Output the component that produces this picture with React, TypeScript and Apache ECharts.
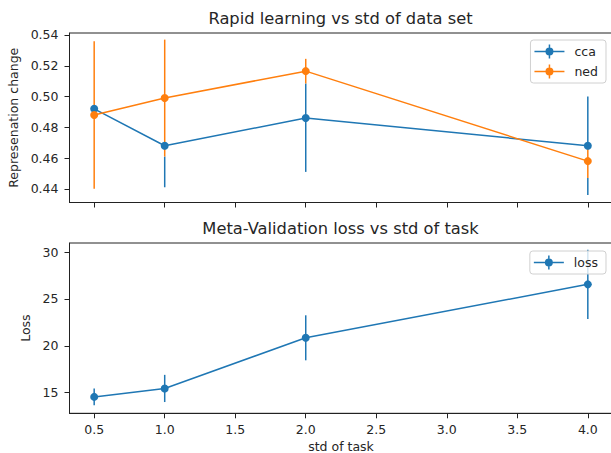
import React, { useEffect, useRef } from "react";
import * as echarts from "echarts";

const xValues = [0.5, 1.0, 2.0, 4.0];
const ccaMean = [0.492, 0.468, 0.486, 0.468];
const ccaErr = [0.02, 0.027, 0.035, 0.032];
const nedMean = [0.488, 0.499, 0.5165, 0.458];
const nedErr = [0.048, 0.038, 0.008, 0.011];
const lossMean = [14.55, 15.45, 20.85, 26.55];
const lossErr = [0.9, 1.45, 2.4, 3.7];

const xTicks = [0.5, 1.0, 1.5, 2.0, 2.5, 3.0, 3.5, 4.0];
const topYTicks = [0.44, 0.46, 0.48, 0.5, 0.52, 0.54];
const bottomYTicks = [15, 20, 25, 30];

const BLUE = "#1f77b4";
const ORANGE = "#ff7f0e";
const TXT = "#262626";
const FONT = "DejaVu Sans";

const pts = (m: number[]) => xValues.map((x, i) => [x, m[i]]);
// rows: [x, mean, err, colorIndex]; later rows lie on top of earlier ones
const errRows = (groups: { mean: number[]; err: number[] }[]) =>
  groups.flatMap((g, gi) => xValues.map((x, i) => [x, g.mean[i], g.err[i], gi]));

// visible parts of an error bar once later bars at the same x cover it
function visibleParts(data: number[][], k: number): number[][] {
  const [x, y, e] = data[k];
  let segs: number[][] = [[y - e, y + e]];
  for (let j = k + 1; j < data.length; j++) {
    const r = data[j];
    if (r[0] !== x) continue;
    const lo = r[1] - r[2];
    const hi = r[1] + r[2];
    segs = segs.flatMap(([a, b]) => {
      const out: number[][] = [];
      if (lo > a) out.push([a, Math.min(b, lo)]);
      if (hi < b) out.push([Math.max(a, hi), b]);
      return out.filter((s) => s[1] > s[0]);
    });
  }
  return segs;
}

function errSeries(name: string, data: number[][], colors: string[], idx: number) {
  return {
    type: "custom",
    name,
    xAxisIndex: idx,
    yAxisIndex: idx,
    data,
    z: 2,
    encode: { x: 0, y: 1 },
    clip: false,
    renderItem: (params: any, api: any) => {
      const k = params.dataIndex;
      const x = api.value(0);
      const c = colors[api.value(3)];
      const children = visibleParts(data, k).map(([a, b]) => {
        const p1 = api.coord([x, b]);
        const p2 = api.coord([x, a]);
        return {
          type: "rect",
          shape: { x: p1[0] - 0.75, y: p1[1], width: 1.5, height: p2[1] - p1[1] },
          style: { fill: c },
        };
      });
      return { type: "group", children };
    },
  };
}

function lineSeries(name: string, data: number[][], color: string, idx: number) {
  return {
    type: "line",
    name,
    xAxisIndex: idx,
    yAxisIndex: idx,
    data,
    z: 3,
    symbol: "circle",
    symbolSize: 8,
    lineStyle: { color, width: 1.5 },
    itemStyle: { color },
    emphasis: { disabled: true },
  };
}

// legend glyph: horizontal line, vertical error bar, circle marker (30 x 14 box)
const LEGEND_ICON =
  "path://M0 6.25h30v1.5h-30Z M14.25 0h1.5v14h-1.5Z M11 7a4 4 0 1 1 8 0a4 4 0 1 1 -8 0Z";

const axisCommon = {
  axisLine: { show: true, onZero: false, lineStyle: { color: "#222", width: 1 } },
  splitLine: { show: false },
};

export default function App() {
  const ref = useRef<HTMLDivElement>(null);
  useEffect(() => {
    if (!ref.current) return;
    const chart = echarts.init(ref.current, undefined, { renderer: "svg" });
    const legendCommon = {
      orient: "vertical",
      right: 14,
      itemWidth: 30,
      itemHeight: 14,
      itemGap: 6,
      padding: [4.5, 8, 4.5, 4],
      borderColor: "#d0d0d0",
      borderWidth: 1,
      borderRadius: 3,
      backgroundColor: "rgba(255,255,255,0.8)",
      textStyle: { fontSize: 12.5, color: TXT, fontFamily: FONT, padding: [0, 0, 0, 5] },
      selectedMode: false,
      z: 20,
    };
    const topErr = errRows([
      { mean: ccaMean, err: ccaErr },
      { mean: nedMean, err: nedErr },
    ]);
    const lossErrRows = errRows([{ mean: lossMean, err: lossErr }]);
    chart.setOption({
      animation: false,
      backgroundColor: "#fff",
      textStyle: { fontFamily: FONT },
      title: [
        {
          text: "Rapid learning vs std of data set",
          left: 340.5,
          textAlign: "center",
          top: 10,
          padding: 0,
          textStyle: { fontSize: 16.3, fontWeight: "normal", color: TXT, fontFamily: FONT },
        },
        {
          text: "Meta-Validation loss vs std of task",
          left: 340.5,
          textAlign: "center",
          top: 220.5,
          padding: 0,
          textStyle: { fontSize: 16.3, fontWeight: "normal", color: TXT, fontFamily: FONT },
        },
      ],
      legend: [
        {
          ...legendCommon,
          top: 40,
          data: [
            { name: "cca", icon: LEGEND_ICON, itemStyle: { color: BLUE } },
            { name: "ned", icon: LEGEND_ICON, itemStyle: { color: ORANGE } },
          ],
        },
        {
          ...legendCommon,
          top: 251,
          data: [{ name: "loss", icon: LEGEND_ICON, itemStyle: { color: BLUE } }],
        },
      ],
      grid: [
        { left: 69.5, top: 33, width: 543, height: 169.5, show: true, borderColor: "#222", borderWidth: 1, outerBoundsMode: "none", containLabel: false },
        { left: 69.5, top: 243, width: 543, height: 170.3, show: true, borderColor: "#222", borderWidth: 1, outerBoundsMode: "none", containLabel: false },
      ],
      xAxis: [
        {
          ...axisCommon,
          type: "value",
          gridIndex: 0,
          min: 0.325,
          max: 4.175,
          axisTick: { show: true, length: 5, customValues: xTicks, lineStyle: { color: "#222" } },
          axisLabel: { show: false },
        },
        {
          ...axisCommon,
          type: "value",
          gridIndex: 1,
          min: 0.325,
          max: 4.175,
          name: "std of task",
          nameLocation: "middle",
          nameGap: 27,
          nameTextStyle: { fontSize: 12.5, lineHeight: 13, color: TXT, fontFamily: FONT },
          axisTick: { show: true, length: 5, customValues: xTicks, lineStyle: { color: "#222" } },
          axisLabel: {
            show: true,
            customValues: xTicks,
            margin: 10,
            fontSize: 12.5,
            color: TXT,
            fontFamily: FONT,
            formatter: (v: number) => v.toFixed(1),
          },
        },
      ],
      yAxis: [
        {
          ...axisCommon,
          type: "value",
          gridIndex: 0,
          min: 0.4311,
          max: 0.5413,
          name: "Represenation change",
          nameLocation: "middle",
          nameRotate: 90,
          nameGap: 50,
          nameTextStyle: { fontSize: 12.5, color: TXT, fontFamily: FONT },
          axisTick: { show: true, length: 5, customValues: topYTicks, lineStyle: { color: "#222" } },
          axisLabel: {
            show: true,
            customValues: topYTicks,
            margin: 11,
            fontSize: 12.5,
            color: TXT,
            fontFamily: FONT,
            formatter: (v: number) => v.toFixed(2),
          },
        },
        {
          ...axisCommon,
          type: "value",
          gridIndex: 1,
          min: 12.8,
          max: 30.96,
          name: "Loss",
          nameLocation: "middle",
          nameRotate: 90,
          nameGap: 29,
          nameTextStyle: { fontSize: 12.5, color: TXT, fontFamily: FONT },
          axisTick: { show: true, length: 5, customValues: bottomYTicks, lineStyle: { color: "#222" } },
          axisLabel: {
            show: true,
            customValues: bottomYTicks,
            margin: 11,
            fontSize: 12.5,
            color: TXT,
            fontFamily: FONT,
            formatter: (v: number) => String(Math.round(v)),
          },
        },
      ],
      series: [
        errSeries("top_err", topErr, [BLUE, ORANGE], 0),
        lineSeries("cca", pts(ccaMean), BLUE, 0),
        lineSeries("ned", pts(nedMean), ORANGE, 0),
        errSeries("loss_err", lossErrRows, [BLUE], 1),
        lineSeries("loss", pts(lossMean), BLUE, 1),
      ],
    });
    return () => chart.dispose();
  }, []);
  return (
    <div
      style={{
        position: "fixed",
        left: 0,
        top: 0,
        width: 611,
        height: 453,
        overflow: "hidden",
        background: "#fff",
      }}
    >
      <div ref={ref} style={{ width: 620, height: 453 }} />
    </div>
  );
}
